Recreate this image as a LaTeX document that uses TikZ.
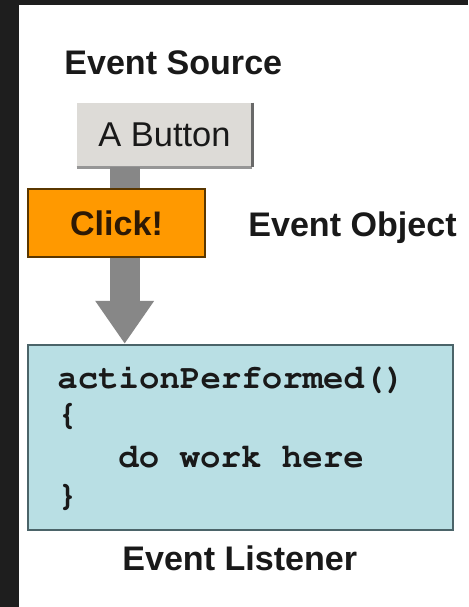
\documentclass[tikz,border=0pt]{standalone}
\usepackage{fontspec}
\setmainfont{Liberation Sans}
\usetikzlibrary{arrows.meta}
\newcommand\courierbold{\fontencoding{T1}\fontfamily{pcr}\fontseries{b}\selectfont}
\definecolor{framedark}{RGB}{30,30,30}
\definecolor{inkdark}{RGB}{25,25,25}
\definecolor{btnfill}{RGB}{221,219,215}
\definecolor{btnshadeR}{RGB}{105,105,105}
\definecolor{btnshadeB}{RGB}{150,150,150}
\definecolor{clickfill}{RGB}{255,153,0}
\definecolor{clickline}{RGB}{90,55,0}
\definecolor{clickink}{RGB}{45,25,5}
\definecolor{listenfill}{RGB}{185,223,228}
\definecolor{listenline}{RGB}{75,100,105}
\definecolor{flowgray}{RGB}{135,135,135}
\tikzset{
    labeltext/.style={font=\fontsize{19.4}{23}\selectfont\bfseries, text=inkdark, inner sep=0pt, anchor=base west},
    codeline/.style={font=\courierbold\fontsize{19.4}{23}\selectfont, text=inkdark, inner sep=0pt, anchor=base west},
    btnbox/.style={fill=btnfill, minimum width=35mm, minimum height=12.8mm, inner sep=0pt,
        font=\fontsize{19.6}{23}\selectfont, text=inkdark},
    clickbox/.style={draw=clickline, line width=0.4mm, fill=clickfill, minimum width=35.4mm, minimum height=13.6mm,
        inner sep=0pt, font=\fontsize{19.4}{23}\selectfont\bfseries, text=clickink},
    listenbox/.style={draw=listenline, line width=0.5mm, fill=listenfill, minimum width=85mm, minimum height=37mm, inner sep=0pt},
    flow/.style={draw=flowgray, line width=6mm, -{Triangle[width=11.2mm, length=8.6mm, fill=flowgray]}}
}
\begin{document}
\begin{tikzpicture}[x=0.02cm, y=-0.02cm]
    \useasboundingbox (0,0) rectangle (468,607);
    \fill[framedark] (0,0) rectangle (468,607);
    \fill[white] (19,5) rectangle (468,607);

    \node[labeltext] (srclabel) at (64,75) {Event Source};
    \node[btnbox] (btn) at (164.5,135) {A Button};
    \draw[btnshadeB, line width=0.6mm] (btn.south west) -- (btn.south east);
    \draw[btnshadeR, line width=0.5mm] (btn.north east) -- (btn.south east);

    \node[listenbox] (lis) at (240.5,437.5) {};
    \path (btn.south west) ++(48,0) coordinate (srcpt);
    \draw[flow] (srcpt) -- (srcpt |- lis.north);

    \node[clickbox] (click) at (116.5,223) {Click!};
    \node[labeltext] (objlabel) at (248,237) {Event Object};

    \node[codeline] (code1) at (57,388) {actionPerformed()};
    \node[codeline] (code2) at (57,424) {\{};
    \node[codeline] (code3) at (118,467) {do work here};
    \node[codeline] (code4) at (57,505) {\}};

    \node[labeltext] (lislabel) at (122,570) {Event Listener};
\end{tikzpicture}
\end{document}
